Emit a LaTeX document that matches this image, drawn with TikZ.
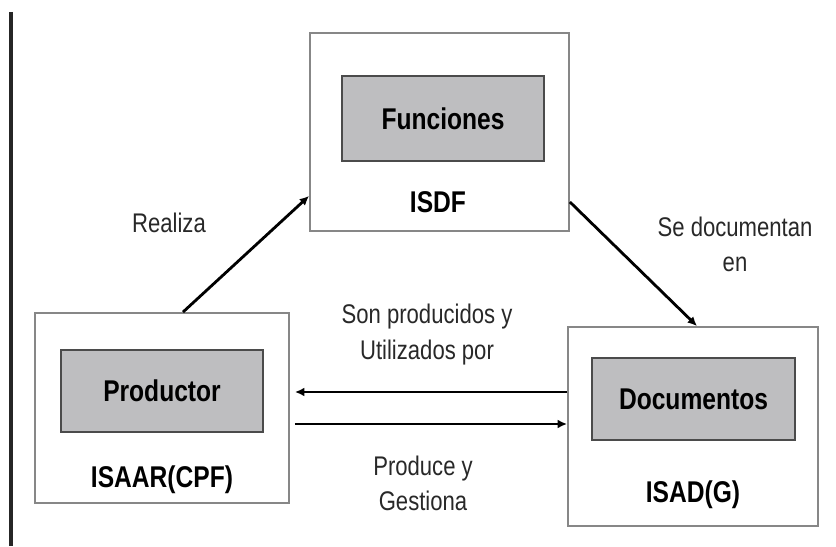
\documentclass[tikz,border=0pt]{standalone}
\usepackage{fontspec}
\setmainfont[FakeStretch=0.82]{Liberation Sans}
\usepackage{tikz}
\usetikzlibrary{arrows.meta}

\definecolor{innergray}{RGB}{190,190,192}
\definecolor{innerline}{RGB}{75,75,75}
\definecolor{outerline}{RGB}{135,135,135}
\definecolor{labeltext}{RGB}{40,40,40}

\begin{document}
\begin{tikzpicture}[x=0.3mm,y=-0.3mm,
    outerbox/.style={draw=outerline,line width=1.6pt,fill=white},
    innerbox/.style={draw=innerline,line width=1.6pt,fill=innergray,
      font=\fontsize{25.6}{28}\selectfont\bfseries},
    boxlabel/.style={inner sep=0pt,font=\fontsize{25.6}{28}\selectfont\bfseries},
    arrlabel/.style={inner sep=0pt,align=center,text=labeltext,font=\fontsize{23}{30}\selectfont},
    arr/.style={line width=2.4pt,-{Latex[length=8pt,width=7.5pt]}}]
            \useasboundingbox (0,0) rectangle (836,546);
            \draw[line width=2.8pt,black!85] (11,12) -- (11,546);

            % boxes
            \node[outerbox,minimum width=76.2mm,minimum height=57mm] (isaar) at (162,408) {};
            \node[outerbox,minimum width=77.7mm,minimum height=59.4mm] (isdf) at (439.5,132) {};
            \node[outerbox,minimum width=75mm,minimum height=59.7mm] (isadg) at (693,426.5) {};

            \node[innerbox,minimum width=60.6mm,minimum height=24.6mm] (productor) at (162,391) {Productor};
            \node[innerbox,minimum width=60.6mm,minimum height=25.5mm] (funciones) at (443,118.5) {Funciones};
            \node[innerbox,minimum width=60.9mm,minimum height=24.6mm] (documentos) at (693.5,399) {Documentos};

            \node[boxlabel] (isaarlbl) at (162,480) {ISAAR(CPF)};
            \node[boxlabel] (isdflbl) at (438,202) {ISDF};
            \node[boxlabel] (isadglbl) at (693,495) {ISAD(G)};

            % arrows
            \draw[arr] ([xshift=6.3mm]isaar.north) -- ([yshift=10.8mm]isdf.south west);
            \draw[arr] ([yshift=-21mm]isdf.east) -- ([xshift=1.2mm]isadg.north);
            \draw[arr,shorten >=1.5mm] ([yshift=10.35mm]isadg.west) coordinate (usa) -- (usa -| isaar.east);
            \draw[arr,shorten <=1.5mm] ([yshift=0.75mm]isadg.west -| isaar.east) -- ([yshift=0.75mm]isadg.west);

            \node[arrlabel] (realiza) at (169,223) {Realiza};
            \node[arrlabel] (sedoc) at (735,244.5) {Se documentan\\en};
            \node[arrlabel] (sonprod) at (427,334.5) {Son producidos y\\Utilizados por};
            \node[arrlabel] (produce) at (423,483.5) {Produce y\\Gestiona};

        \end{tikzpicture}
\end{document}
